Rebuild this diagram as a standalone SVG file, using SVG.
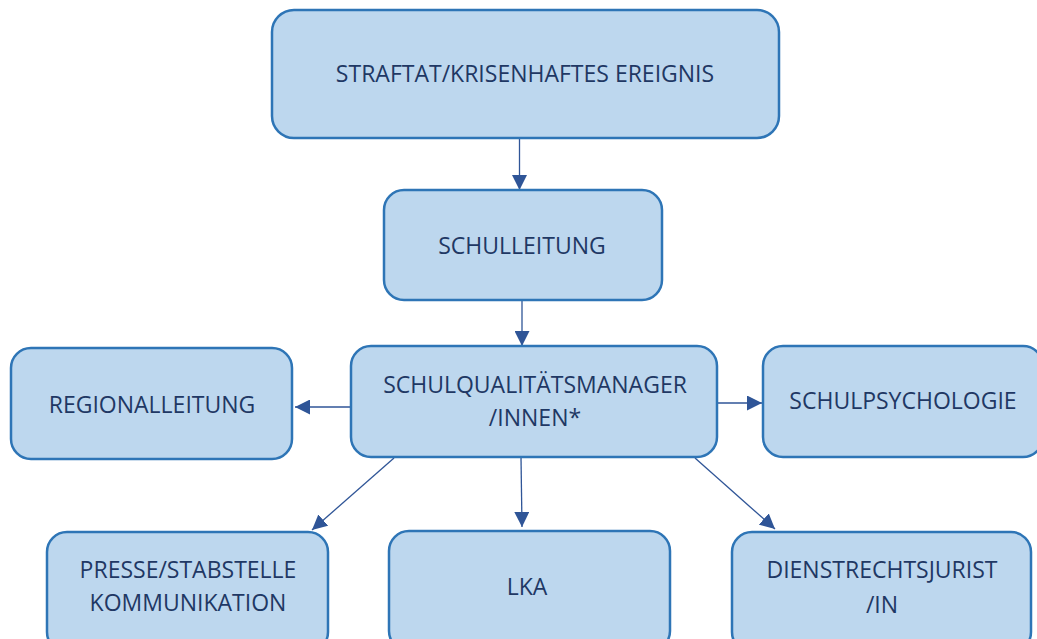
<svg xmlns="http://www.w3.org/2000/svg" width="1037" height="639" viewBox="0 0 1037 639">
<style>
.box{fill:#BDD7EE;stroke:#2E75B6;stroke-width:2.5}
.t{font-family:"Open Sans","Liberation Sans",sans-serif;font-size:23px;fill:#1F3864;text-anchor:middle}
.c{stroke:#2F5597;stroke-width:1.3;fill:none;marker-end:url(#ah)}
</style>
<defs>
<marker id="ah" viewBox="0 0 10 10" refX="10" refY="5" markerWidth="15" markerHeight="15" markerUnits="userSpaceOnUse" orient="auto">
<path d="M0,0 L10,5 L0,10 Z" fill="#2F5597"/>
</marker>
</defs>
<rect width="1037" height="639" fill="#FFFFFF"/>
<g id="connectors">
<line class="c" x1="519.5" y1="138" x2="519.5" y2="190"/>
<line class="c" x1="522" y1="300" x2="522" y2="346"/>
<line class="c" x1="351" y1="407" x2="295" y2="407"/>
<line class="c" x1="718" y1="403" x2="762" y2="403"/>
<line class="c" x1="394" y1="458" x2="312" y2="530"/>
<line class="c" x1="521" y1="457" x2="522" y2="527"/>
<line class="c" x1="695" y1="458" x2="775" y2="529"/>
</g>
<g id="n1"><rect class="box" x="272" y="10" width="507" height="128" rx="22"/><text class="t" x="525" y="82">STRAFTAT/KRISENHAFTES EREIGNIS</text></g>
<g id="n2"><rect class="box" x="384" y="190" width="278" height="110" rx="20"/><text class="t" x="522" y="254">SCHULLEITUNG</text></g>
<g id="n3"><rect class="box" x="351" y="346" width="366" height="111" rx="20"/><text class="t" x="535" y="393">SCHULQUALITÄTSMANAGER</text><text class="t" x="535" y="426">/INNEN*</text></g>
<g id="n4"><rect class="box" x="11" y="348" width="281" height="111" rx="20"/><text class="t" x="152" y="413">REGIONALLEITUNG</text></g>
<g id="n5"><rect class="box" x="763" y="346" width="280" height="111" rx="20"/><text class="t" x="903" y="409">SCHULPSYCHOLOGIE</text></g>
<g id="n6"><rect class="box" x="47" y="532" width="281" height="120" rx="20"/><text class="t" x="188" y="578">PRESSE/STABSTELLE</text><text class="t" x="188" y="611">KOMMUNIKATION</text></g>
<g id="n7"><rect class="box" x="389" y="531" width="281" height="120" rx="20"/><text class="t" x="527" y="595">LKA</text></g>
<g id="n8"><rect class="box" x="732" y="532" width="299" height="120" rx="20"/><text class="t" x="882" y="578">DIENSTRECHTSJURIST</text><text class="t" x="882" y="613">/IN</text></g>
</svg>
